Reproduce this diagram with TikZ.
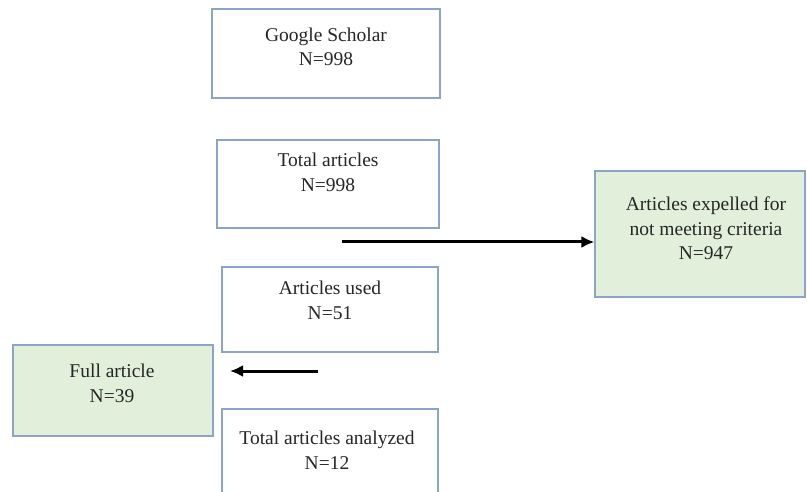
\documentclass[tikz,border=0pt]{standalone}
\usepackage{fontspec}
\setmainfont{Liberation Serif}
\usetikzlibrary{arrows.meta}
\definecolor{boxline}{HTML}{8AA5C8}
\definecolor{boxgreen}{HTML}{E2EFDA}
\begin{document}
\begin{tikzpicture}[x=1pt,y=-1pt,
  flowbox/.style={draw=boxline, line width=1.1pt, rectangle, inner sep=0pt, fill=white},
  greenbox/.style={flowbox, fill=boxgreen},
  boxtext/.style={anchor=north, inner sep=0pt, align=center, text=black!85,
    font=\fontsize{19.5}{24.5}\selectfont},
  flowarrow/.style={line width=3pt, -{Latex[length=13pt,width=12pt]}}]
\useasboundingbox (0,0) rectangle (807,492);
\clip (0,0) rectangle (807,492);
% boxes
\node[flowbox, minimum width=228pt, minimum height=89pt] (gs) at (326,53.5) {};
\node[flowbox, minimum width=222pt, minimum height=88pt] (ta) at (328,184) {};
\node[greenbox, minimum width=210pt, minimum height=126pt] (ex) at (700,234) {};
\node[flowbox, minimum width=216pt, minimum height=85pt] (au) at (330,309.5) {};
\node[greenbox, minimum width=200pt, minimum height=91pt] (fa) at (113,390.5) {};
\node[flowbox, minimum width=216pt, minimum height=110pt] (an) at (330,464) {};
% texts
\node[boxtext] (gst) at (326,27.5) {Google Scholar\\N=998};
\node[boxtext] (tat) at (328,153) {Total articles\\N=998};
\node[boxtext] (ext) at (706,197) {Articles expelled for\\not meeting criteria\\N=947};
\node[boxtext] (aut) at (330,281) {Articles used\\N=51};
\node[boxtext] (fat) at (112,364) {Full article\\N=39};
\node[boxtext] (ant) at (327,431) {Total articles analyzed\\N=12};
% connectors
\coordinate (a1s) at (342,242);
\coordinate (a2s) at (318,371);
\coordinate (a2e) at (230,371);
\draw[flowarrow] (a1s) -- (a1s -| ex.west);
\draw[flowarrow] (a2s) -- (a2e);
\end{tikzpicture}
\end{document}
